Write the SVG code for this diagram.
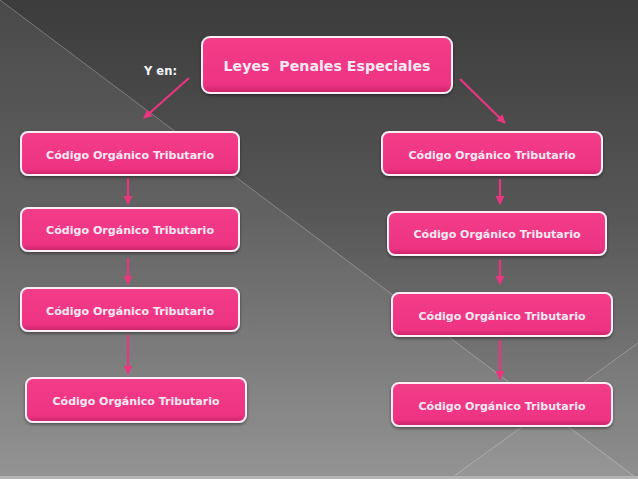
<svg xmlns="http://www.w3.org/2000/svg" width="638" height="479" viewBox="0 0 638 479">
<defs>
<linearGradient id="bg" x1="0" y1="0" x2="0" y2="1">
<stop offset="0" stop-color="#3c3c3c"/>
<stop offset="0.45" stop-color="#575757"/>
<stop offset="1" stop-color="#8c8c8c"/>
</linearGradient>
<linearGradient id="boxg" x1="0" y1="0" x2="0" y2="1">
<stop offset="0" stop-color="#f23d89"/>
<stop offset="0.85" stop-color="#ee3383"/>
<stop offset="1" stop-color="#c8246a"/>
</linearGradient>
<filter id="sh" x="-10%" y="-20%" width="120%" height="150%">
<feDropShadow dx="0" dy="1.5" stdDeviation="1.5" flood-color="#000" flood-opacity="0.45"/>
</filter>
<marker id="ah" viewBox="0 0 10 10" refX="9" refY="5" markerWidth="4" markerHeight="4" orient="auto" markerUnits="strokeWidth">
<path d="M0,0 L10,5 L0,10 z" fill="#ea3580"/>
</marker>
</defs>
<style>
.box{fill:url(#boxg);stroke:#fbeef4;stroke-width:2;filter:url(#sh)}
.t{font-family:"DejaVu Sans","Verdana",sans-serif;font-weight:bold;font-size:11.3px;fill:#fbe9f2;text-anchor:middle}
.tt{font-family:"DejaVu Sans","Verdana",sans-serif;font-weight:bold;font-size:14px;fill:#fbe9f2;text-anchor:middle;white-space:pre}
.c{stroke:#ea3580;stroke-width:2.2;fill:none;marker-end:url(#ah)}
</style>
<rect x="0" y="0" width="638" height="479" fill="url(#bg)"/>
<polygon points="0,0 638,479 0,479" fill="#ffffff" fill-opacity="0.07"/>
<polygon points="450,479 638,343 638,479" fill="#ffffff" fill-opacity="0.03"/>
<line x1="0" y1="0" x2="638" y2="479" stroke="#ffffff" stroke-opacity="0.28" stroke-width="1"/>
<line x1="450" y1="479" x2="638" y2="343" stroke="#ffffff" stroke-opacity="0.25" stroke-width="1"/>
<rect x="0" y="476" width="638" height="3" fill="#b4b4b4"/>

<g id="connectors">
<line class="c" x1="189" y1="78" x2="144" y2="118"/>
<line class="c" x1="460" y1="79" x2="505" y2="123"/>
<line class="c" x1="128" y1="178" x2="128" y2="204"/>
<line class="c" x1="128" y1="258" x2="128" y2="284"/>
<line class="c" x1="128" y1="335" x2="128" y2="374"/>
<line class="c" x1="500" y1="179" x2="500" y2="204"/>
<line class="c" x1="500" y1="260" x2="500" y2="284"/>
<line class="c" x1="500" y1="340" x2="500" y2="379"/>
</g>

<g id="label-yen">
<text x="160.5" y="75" font-family="DejaVu Sans, Verdana, sans-serif" font-weight="bold" font-size="12.5" fill="#f4f4f4" text-anchor="middle" textLength="33" lengthAdjust="spacingAndGlyphs">Y en:</text>
</g>

<g id="top">
<rect class="box" x="202" y="37" width="250" height="56" rx="8"/>
<text class="tt" x="327" y="71" textLength="207" lengthAdjust="spacingAndGlyphs">Leyes  Penales Especiales</text>
</g>

<g id="left1">
<rect class="box" x="21" y="132" width="218" height="43" rx="7"/>
<text class="t" x="130" y="159" textLength="168" lengthAdjust="spacingAndGlyphs">Código Orgánico Tributario</text>
</g>
<g id="left2">
<rect class="box" x="21" y="208" width="218" height="43" rx="7"/>
<text class="t" x="130" y="234" textLength="168" lengthAdjust="spacingAndGlyphs">Código Orgánico Tributario</text>
</g>
<g id="left3">
<rect class="box" x="21" y="288" width="218" height="43" rx="7"/>
<text class="t" x="130" y="315" textLength="168" lengthAdjust="spacingAndGlyphs">Código Orgánico Tributario</text>
</g>
<g id="left4">
<rect class="box" x="26" y="378" width="220" height="44" rx="7"/>
<text class="t" x="136" y="405" textLength="167" lengthAdjust="spacingAndGlyphs">Código Orgánico Tributario</text>
</g>

<g id="right1">
<rect class="box" x="382" y="132" width="220" height="43" rx="7"/>
<text class="t" x="492" y="159" textLength="167" lengthAdjust="spacingAndGlyphs">Código Orgánico Tributario</text>
</g>
<g id="right2">
<rect class="box" x="388" y="212" width="218" height="43" rx="7"/>
<text class="t" x="497" y="238" textLength="167" lengthAdjust="spacingAndGlyphs">Código Orgánico Tributario</text>
</g>
<g id="right3">
<rect class="box" x="392" y="293" width="220" height="43" rx="7"/>
<text class="t" x="502" y="320" textLength="167" lengthAdjust="spacingAndGlyphs">Código Orgánico Tributario</text>
</g>
<g id="right4">
<rect class="box" x="392" y="383" width="220" height="43" rx="7"/>
<text class="t" x="502" y="410" textLength="167" lengthAdjust="spacingAndGlyphs">Código Orgánico Tributario</text>
</g>
</svg>
